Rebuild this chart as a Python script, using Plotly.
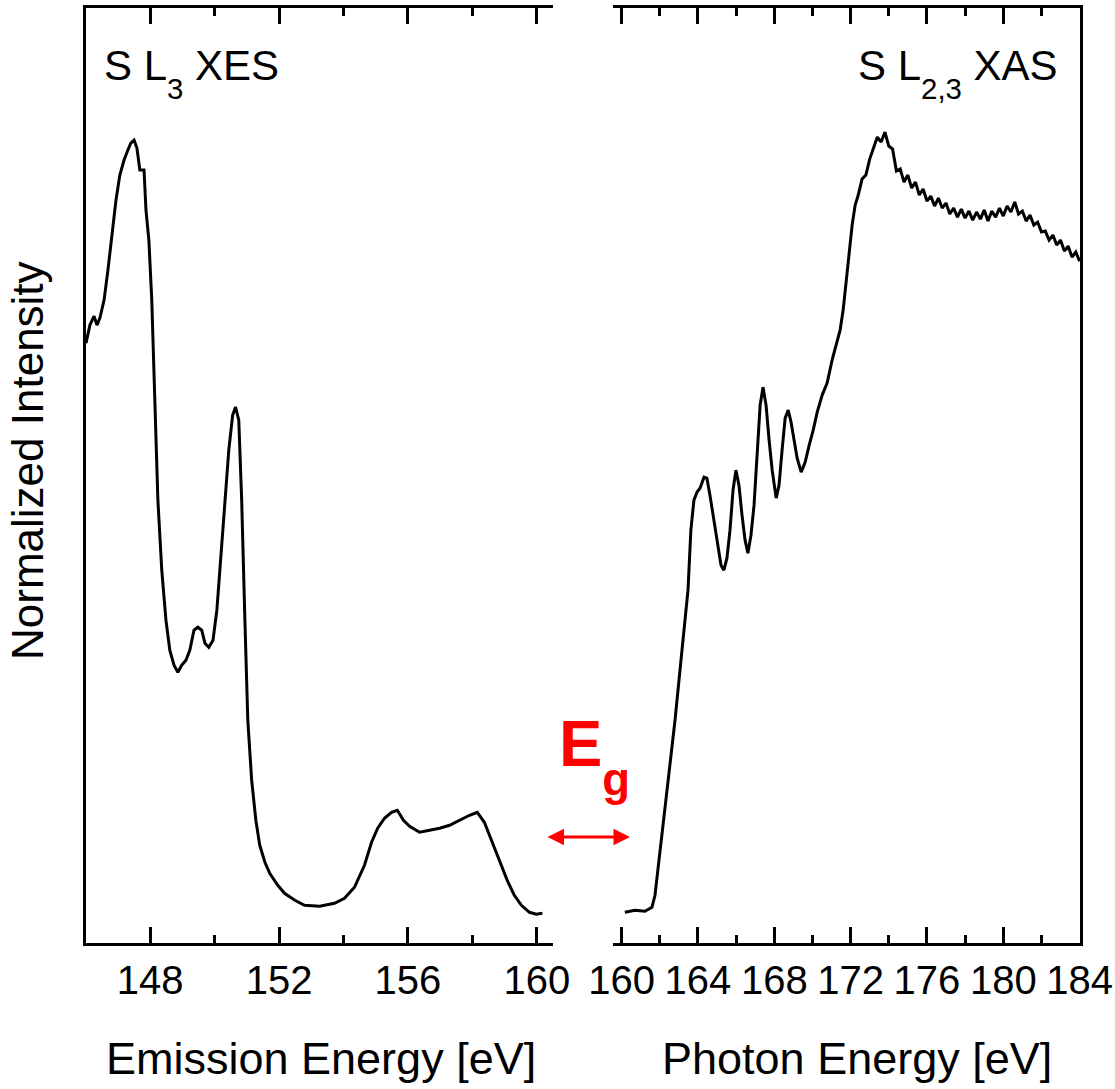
import plotly.graph_objects as go

# ---- S L3 XES (emission energy, eV) ----
xes_energy = [146.01, 146.13, 146.26, 146.35, 146.44, 146.57, 146.69, 146.81, 146.94, 147.06,
              147.19, 147.31, 147.40, 147.50, 147.59, 147.68, 147.81, 147.87, 147.96, 148.05,
              148.15, 148.24, 148.36, 148.49, 148.61, 148.74, 148.86, 148.98, 149.11, 149.23,
              149.36, 149.48, 149.60, 149.70, 149.82, 149.95, 150.07, 150.19, 150.32, 150.44,
              150.56, 150.65, 150.75, 150.84, 150.94, 151.03, 151.15, 151.28, 151.40, 151.56,
              151.71, 151.96, 152.17, 152.49, 152.79, 153.26, 153.72, 154.03, 154.34, 154.65,
              154.87, 155.06, 155.27, 155.49, 155.67, 155.86, 156.05, 156.36, 156.67, 156.98,
              157.29, 157.60, 157.91, 158.15, 158.37, 158.59, 158.84, 159.08, 159.30, 159.52,
              159.77, 159.98, 160.17]
xes_intensity = [600, 618, 627, 618, 625, 643, 673, 708, 743, 768,
                 783, 793, 800, 803, 795, 773, 773, 733, 703, 643,
                 543, 443, 373, 323, 293, 278, 271, 278, 283, 293,
                 313, 316, 313, 300, 296, 303, 333, 383, 443, 493,
                 528, 536, 523, 443, 323, 223, 163, 123, 98, 81,
                 70, 58, 50, 43, 38, 37, 40, 45, 56, 78,
                 101, 115, 125, 131, 133, 123, 117, 111, 113, 115,
                 118, 123, 128, 131, 121, 103, 83, 63, 48, 38,
                 31, 29, 30]

# ---- S L2,3 XAS (photon energy, eV) ----
xas_energy = [160.17, 160.70, 161.22, 161.59, 161.75, 161.90, 162.11, 162.32, 162.53, 162.80,
              163.06, 163.27, 163.48, 163.63, 163.79, 163.95, 164.11, 164.32, 164.47, 164.63,
              164.84, 165.05, 165.21, 165.36, 165.52, 165.68, 165.84, 165.99, 166.15, 166.31,
              166.47, 166.62, 166.78, 166.94, 167.10, 167.26, 167.41, 167.57, 167.73, 167.89,
              168.10, 168.25, 168.41, 168.57, 168.73, 168.88, 169.04, 169.20, 169.41, 169.62,
              169.83, 170.04, 170.25, 170.51, 170.77, 171.03, 171.24, 171.45, 171.61, 171.77,
              171.93, 172.08, 172.24, 172.40,
              172.6, 172.8, 173.0, 173.2, 173.4, 173.6, 173.8, 174.0, 174.2, 174.4,
              174.6, 174.8, 175.0, 175.2, 175.4, 175.6, 175.8, 176.0, 176.2, 176.4,
              176.6, 176.8, 177.0, 177.2, 177.4, 177.6, 177.8, 178.0, 178.2, 178.4,
              178.6, 178.8, 179.0, 179.2, 179.4, 179.6, 179.8, 180.0, 180.2, 180.4,
              180.6, 180.8, 181.0, 181.2, 181.4, 181.6, 181.8, 182.0, 182.2, 182.4,
              182.6, 182.8, 183.0, 183.2, 183.4, 183.6, 183.8, 184.0]
xas_intensity = [31, 33, 32, 36, 48, 73, 103, 143, 178, 223,
                 273, 313, 353, 413, 443, 451, 455, 466, 465, 448,
                 423, 398, 378, 373, 385, 413, 453, 473, 458, 428,
                 403, 390, 408, 438, 493, 538, 556, 538, 503, 473,
                 445, 458, 493, 525, 533, 521, 503, 485, 471, 481,
                 498, 513, 531, 548, 560, 583, 598, 613, 633, 663,
                 693, 718, 738, 748,
                 764, 768, 784, 794, 806, 801, 811, 797, 794, 772,
                 774, 761, 768, 755, 761, 748, 754, 742, 747, 737,
                 745, 735, 740, 729, 735, 726, 734, 725, 732, 723,
                 731, 724, 733, 722, 732, 726, 735, 727, 737, 731,
                 741, 729, 732, 722, 728, 718, 721, 711, 712, 703,
                 708, 698, 703, 692, 697, 686, 691, 682]

xes_ticks = [148, 152, 156, 160]
xas_ticks = [160, 164, 168, 172, 176, 180, 184]

W, H = 1115, 1089
FONT = "Liberation Sans, Arial, sans-serif"

def px(x):
    return x / W

def py(y):
    return 1 - y / H

fig = go.Figure()
fig.add_trace(go.Scatter(x=xes_energy, y=xes_intensity, mode="lines",
                         line=dict(color="black", width=3), xaxis="x", yaxis="y",
                         showlegend=False, hoverinfo="skip"))
fig.add_trace(go.Scatter(x=xas_energy, y=xas_intensity, mode="lines",
                         line=dict(color="black", width=3), xaxis="x2", yaxis="y2",
                         showlegend=False, hoverinfo="skip"))

common_x = dict(ticks="inside", ticklen=16, tickwidth=3, tickcolor="black",
                showline=True, linewidth=3, linecolor="black", mirror="ticks",
                showgrid=False, zeroline=False, automargin=False,
                tickfont=dict(family=FONT, size=40, color="black"),
                minor=dict(ticks="inside", ticklen=8, tickwidth=3, tickcolor="black", dtick=2, showgrid=False))
common_y = dict(showline=True, linewidth=3, linecolor="black", mirror=False, automargin=False,
                ticks="", showticklabels=False, showgrid=False, zeroline=False)

fig.update_layout(
    template="none",
    width=W, height=H,
    margin=dict(l=0, r=0, t=0, b=0, autoexpand=False),
    paper_bgcolor="white", plot_bgcolor="white",
    xaxis=dict(domain=[px(85.7), px(553)], range=[146, 160.5], tickvals=xes_ticks,
               anchor="y", **common_x),
    xaxis2=dict(domain=[px(613), px(1080)], range=[159.55, 184.02], tickvals=xas_ticks,
                anchor="y2", **common_x),
    yaxis=dict(domain=[py(943.3), py(8)], range=[0, 935], anchor="x", **common_y),
    yaxis2=dict(domain=[py(943.3), py(8)], range=[0, 935], anchor="x2", side="right", **common_y),
)

SUB = '<sub><span style="baseline-shift:-0.33em">{}</span></sub>'

annotations = [
    dict(text="S L" + SUB.format("3") + " XES", x=px(102), y=py(40), xref="paper", yref="paper",
         xanchor="left", yanchor="top", showarrow=False,
         font=dict(family=FONT, size=42, color="black")),
    dict(text="S L" + SUB.format("2,3") + " XAS", x=px(1060), y=py(40), xref="paper", yref="paper",
         xanchor="right", yanchor="top", showarrow=False,
         font=dict(family=FONT, size=42, color="black")),
    dict(text="<b>E" + SUB.format("g") + "</b>", x=px(557), y=py(705), xref="paper", yref="paper",
         xanchor="left", yanchor="top", showarrow=False,
         font=dict(family=FONT, size=65, color="red")),
    dict(text="", x=px(630), y=py(837), xref="paper", yref="paper",
         ax=-84, ay=0, showarrow=True, arrowside="end+start", arrowhead=2,
         arrowsize=1.1, arrowwidth=3, arrowcolor="red"),
    dict(text="Emission Energy [eV]", x=px(321), y=py(1058), xref="paper", yref="paper",
         xanchor="center", yanchor="middle", showarrow=False,
         font=dict(family=FONT, size=45, color="black")),
    dict(text="Photon Energy [eV]", x=px(857), y=py(1058), xref="paper", yref="paper",
         xanchor="center", yanchor="middle", showarrow=False,
         font=dict(family=FONT, size=45, color="black")),
    dict(text="Normalized Intensity", x=px(27), y=py(461), xref="paper", yref="paper",
         xanchor="center", yanchor="middle", textangle=-90, showarrow=False,
         font=dict(family=FONT, size=44, color="black")),
]
fig.update_layout(annotations=annotations)

fig.write_html("out.html")
